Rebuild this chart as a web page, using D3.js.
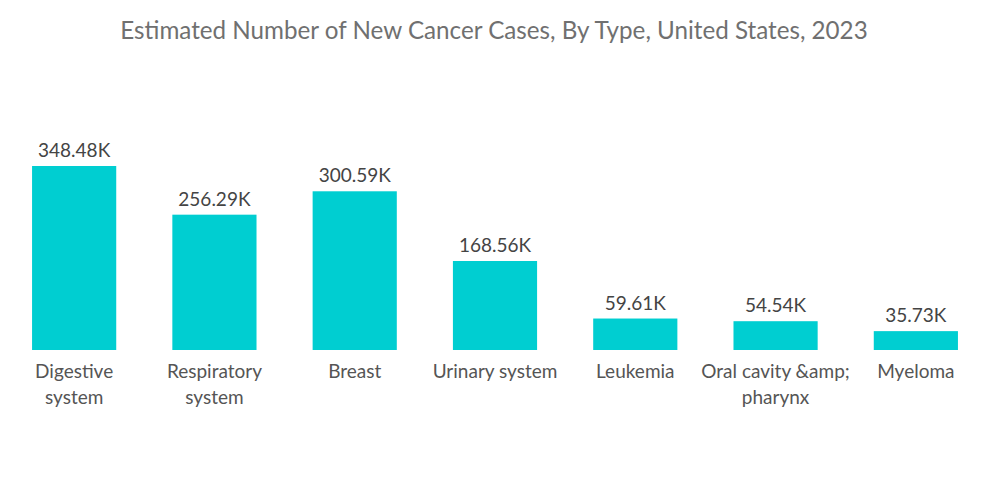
<!DOCTYPE html>
<html>
<head>
<meta charset="utf-8">
<script src="https://cdn.jsdelivr.net/npm/d3@7"></script>
<style>
  body { margin: 0; background: #fff; }
  svg { display: block; font-family: Lato, "Open Sans", sans-serif; }
</style>
</head>
<body>
<svg id="chart" width="1000" height="504"></svg>
<script>
// data
const categories = ['Digestive system', 'Respiratory system', 'Breast', 'Urinary system', 'Leukemia', 'Oral cavity &amp; pharynx', 'Myeloma'];
const cases = [348.48, 256.29, 300.59, 168.56, 59.61, 54.54, 35.73];
const valueLabels = ['348.48K', '256.29K', '300.59K', '168.56K', '59.61K', '54.54K', '35.73K'];
// how each category label wraps
const labelLines = [['Digestive', 'system'], ['Respiratory', 'system'], ['Breast'], ['Urinary system'], ['Leukemia'], ['Oral cavity &amp;', 'pharynx'], ['Myeloma']];

const svg = d3.select('#chart');
const width = 1000;
const baseY = 350;

svg.append('text')
  .attr('x', width / 2 - 6)
  .attr('y', 39)
  .attr('text-anchor', 'middle')
  .attr('fill', '#707070')
  .style('font-size', '24.2px')
  .text('Estimated Number of New Cancer Cases, By Type, United States, 2023');

const x = d3.scaleBand()
  .domain(categories)
  .range([4, 986])
  .paddingInner(0.4)
  .paddingOuter(0.2);

const y = d3.scaleLinear()
  .domain([0, d3.max(cases)])
  .range([baseY, 166]);

const rows = categories.map((c, i) => ({ cat: c, value: cases[i], label: valueLabels[i], lines: labelLines[i] }));

const g = svg.append('g');

g.selectAll('.bar')
  .data(rows)
  .enter()
  .append('rect')
  .attr('class', 'bar')
  .attr('x', d => x(d.cat))
  .attr('y', d => y(d.value))
  .attr('width', x.bandwidth())
  .attr('height', d => baseY - y(d.value))
  .attr('fill', '#00ced1');

g.selectAll('.val')
  .data(rows)
  .enter()
  .append('text')
  .attr('class', 'val')
  .attr('x', d => x(d.cat) + x.bandwidth() / 2)
  .attr('y', d => y(d.value) - 9)
  .attr('text-anchor', 'middle')
  .attr('fill', '#444')
  .style('font-size', '19px')
  .text(d => d.label);

// category labels, can be 1 or 2 lines
const cat = g.selectAll('.cat')
  .data(rows)
  .enter()
  .append('text')
  .attr('class', 'cat')
  .attr('text-anchor', 'middle')
  .attr('fill', '#555')
  .style('font-size', '19px');

cat.selectAll('tspan')
  .data(d => d.lines.map(l => ({ l, cx: x(d.cat) + x.bandwidth() / 2 })))
  .enter()
  .append('tspan')
  .attr('x', d => d.cx)
  .attr('y', (d, i) => 378 + i * 26)
  .text(d => d.l);
</script>
</body>
</html>
